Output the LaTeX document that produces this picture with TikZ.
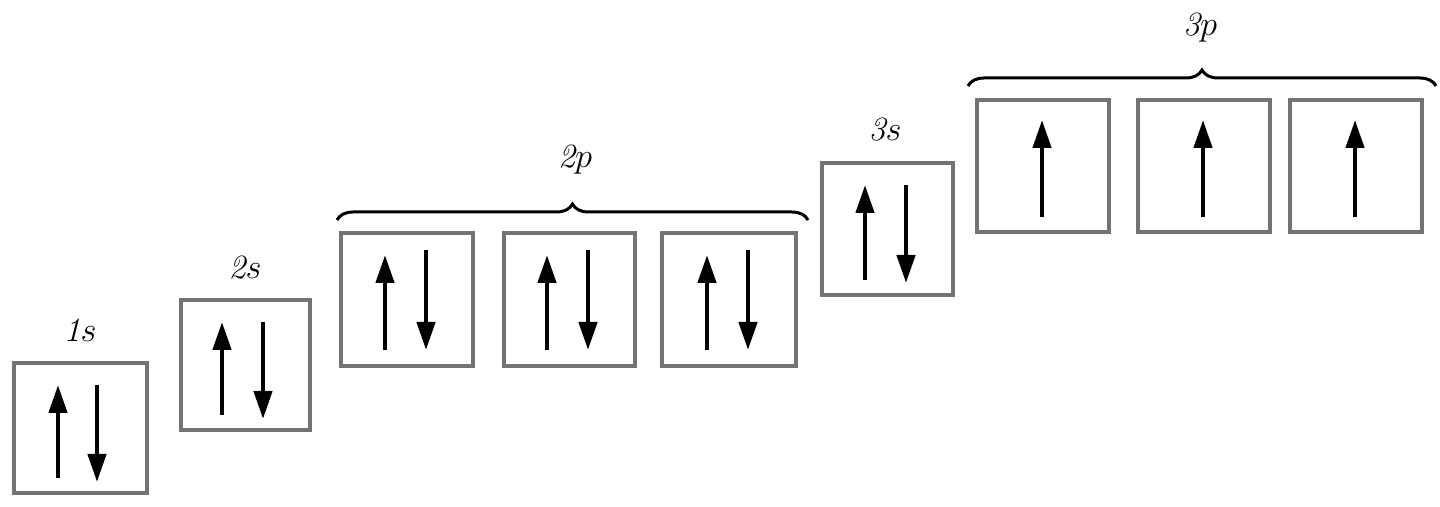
\documentclass[tikz,border=0pt]{standalone}
\usetikzlibrary{arrows.meta,decorations.pathreplacing}
\begin{document}
\begin{tikzpicture}[x=0.5pt, y=-0.5pt, line width=1.5pt,
  orbital/.style={draw=black!55, line width=1.6pt, fill=white},
  spin/.style={line width=2.2pt, -{Triangle[length=14pt,width=9pt]}},
  shell/.style={font=\fontsize{17}{20}\selectfont\itshape},
  level/.style={decorate, decoration={brace, amplitude=8pt}, line width=1.5pt}]
\useasboundingbox (0, 0) rectangle (1440, 507);
%Boxes
\draw[orbital] (14, 363) rectangle (147, 493);
\draw[orbital] (181, 300) rectangle (310, 430);
\draw[orbital] (341, 233) rectangle (473, 366);
\draw[orbital] (504, 233) rectangle (635, 366);
\draw[orbital] (662, 233) rectangle (796, 366);
\draw[orbital] (822, 163) rectangle (953, 295);
\draw[orbital] (977, 100) rectangle (1109, 232);
\draw[orbital] (1138, 100) rectangle (1270, 232);
\draw[orbital] (1290, 100) rectangle (1422, 232);
%Spins
\draw[spin] (58, 478) -- (58, 385);
\draw[spin] (97, 385) -- (97, 482);
\draw[spin] (222, 415) -- (222, 322);
\draw[spin] (263, 322) -- (263, 419);
\draw[spin] (385, 350) -- (385, 255);
\draw[spin] (426, 250) -- (426, 350);
\draw[spin] (547, 350) -- (547, 255);
\draw[spin] (588, 250) -- (588, 350);
\draw[spin] (707, 350) -- (707, 255);
\draw[spin] (748, 250) -- (748, 350);
\draw[spin] (865, 280) -- (865, 185);
\draw[spin] (906, 185) -- (906, 283);
\draw[spin] (1042, 217) -- (1042, 120);
\draw[spin] (1203, 217) -- (1203, 120);
\draw[spin] (1355, 217) -- (1355, 120);
%Braces
\draw[level] (337, 220) -- (808, 220);
\draw[level] (968, 86) -- (1436, 86);
%Labels
\node[shell] (l1s) at (80, 330) {1$s$};
\node[shell] (l2s) at (245, 268) {2$s$};
\node[shell] (l2p) at (575, 160) {2$p$};
\node[shell] (l3s) at (885, 130) {3$s$};
\node[shell] (l3p) at (1200, 28) {3$p$};
\end{tikzpicture}
\end{document}
